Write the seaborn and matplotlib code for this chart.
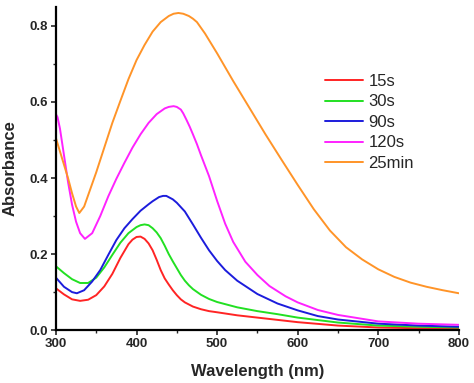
import numpy as np
import pandas as pd
import matplotlib
matplotlib.use("Agg")
import matplotlib.pyplot as plt
from matplotlib.ticker import MultipleLocator, FormatStrFormatter
import seaborn as sns

# ---- data ----
series_names = ["15s", "30s", "90s", "120s", "25min"]
series_colors = ["#ff2424", "#22e022", "#1c1cdc", "#ff22ff", "#ff9428"]

wl_15s = [300, 310, 320, 330, 340, 350, 360, 370, 380, 390, 395, 400, 405, 410, 415,
          420, 425, 430, 435, 440, 445, 450, 455, 460, 470, 480, 490, 500, 525, 550,
          575, 600, 650, 700, 750, 800]
abs_15s = [0.110, 0.094, 0.081, 0.077, 0.080, 0.092, 0.115, 0.148, 0.190, 0.226, 0.238,
           0.245, 0.246, 0.240, 0.228, 0.210, 0.185, 0.158, 0.136, 0.120, 0.105, 0.092,
           0.081, 0.073, 0.062, 0.055, 0.050, 0.047, 0.039, 0.033, 0.027, 0.021, 0.012,
           0.007, 0.005, 0.004]

wl_30s = [300, 310, 320, 330, 340, 350, 360, 370, 380, 390, 400, 405, 410, 415, 420,
          425, 430, 435, 440, 445, 450, 455, 460, 465, 470, 480, 490, 500, 525, 550,
          575, 600, 650, 700, 750, 800]
abs_30s = [0.168, 0.150, 0.134, 0.124, 0.124, 0.138, 0.165, 0.198, 0.230, 0.255, 0.271,
           0.276, 0.278, 0.276, 0.268, 0.257, 0.242, 0.222, 0.200, 0.181, 0.163, 0.145,
           0.130, 0.118, 0.108, 0.093, 0.082, 0.074, 0.060, 0.050, 0.042, 0.033, 0.020,
           0.012, 0.009, 0.007]

wl_90s = [300, 310, 320, 326, 335, 345, 355, 365, 375, 385, 395, 405, 415, 420, 428,
          433, 437, 445, 450, 460, 470, 480, 490, 500, 510, 525, 550, 575, 600, 625,
          650, 700, 750, 800]
abs_90s = [0.138, 0.114, 0.100, 0.097, 0.105, 0.128, 0.158, 0.198, 0.237, 0.268, 0.292,
           0.314, 0.331, 0.339, 0.350, 0.353, 0.353, 0.344, 0.335, 0.312, 0.278, 0.243,
           0.210, 0.182, 0.158, 0.130, 0.095, 0.070, 0.052, 0.037, 0.028, 0.017, 0.012,
           0.009]

wl_120s = [300, 302, 305, 310, 315, 320, 325, 330, 336, 345, 355, 365, 375, 385, 395,
           405, 415, 425, 435, 440, 446, 450, 455, 458, 462, 466, 470, 475, 480, 490,
           500, 510, 520, 535, 550, 565, 585, 600, 625, 650, 700, 750, 800]
abs_120s = [0.568, 0.560, 0.530, 0.460, 0.390, 0.330, 0.285, 0.255, 0.240, 0.255, 0.300,
            0.352, 0.398, 0.440, 0.480, 0.515, 0.545, 0.568, 0.583, 0.587, 0.589, 0.587,
            0.580, 0.570, 0.553, 0.535, 0.515, 0.489, 0.460, 0.405, 0.340, 0.280, 0.232,
            0.180, 0.145, 0.116, 0.089, 0.073, 0.053, 0.040, 0.023, 0.017, 0.014]

wl_25min = [300, 305, 310, 315, 320, 325, 329, 335, 340, 350, 360, 370, 380, 390, 400,
            410, 420, 430, 440, 446, 452, 458, 465, 470, 475, 485, 500, 520, 540, 560,
            580, 600, 620, 640, 660, 680, 700, 720, 740, 760, 780, 800]
abs_25min = [0.505, 0.470, 0.435, 0.400, 0.360, 0.325, 0.308, 0.325, 0.355, 0.415, 0.480,
             0.545, 0.603, 0.660, 0.710, 0.750, 0.785, 0.810, 0.826, 0.832, 0.834, 0.832,
             0.826, 0.819, 0.810, 0.780, 0.728, 0.655, 0.585, 0.515, 0.448, 0.382, 0.318,
             0.262, 0.218, 0.186, 0.160, 0.140, 0.125, 0.114, 0.105, 0.097]

x_ticks = [300, 400, 500, 600, 700, 800]
y_ticks = [0.0, 0.2, 0.4, 0.6, 0.8]

# ---- build long-form table ----
frames = []
for name, wl, ab in zip(series_names,
                        [wl_15s, wl_30s, wl_90s, wl_120s, wl_25min],
                        [abs_15s, abs_30s, abs_90s, abs_120s, abs_25min]):
    frames.append(pd.DataFrame({"Wavelength": wl, "Absorbance": ab, "Series": name}))
df = pd.concat(frames, ignore_index=True)

sns.set_style("ticks")
plt.rcParams["font.family"] = ["Liberation Sans", "DejaVu Sans"]

fig = plt.figure(figsize=(4.74, 3.83), dpi=100)
ax = fig.add_axes([0.118, 0.138, 0.850, 0.844])

sns.lineplot(data=df, x="Wavelength", y="Absorbance", hue="Series",
             hue_order=series_names, palette=dict(zip(series_names, series_colors)),
             estimator=None, sort=True, linewidth=1.4, ax=ax)
for ln in ax.get_lines():
    ln.set_solid_joinstyle("round")

ax.set_xlim(300, 800)
ax.set_ylim(0, 0.85)
ax.set_xticks(x_ticks)
ax.set_yticks(y_ticks)
ax.xaxis.set_minor_locator(MultipleLocator(50))
ax.yaxis.set_minor_locator(MultipleLocator(0.1))
ax.yaxis.set_major_formatter(FormatStrFormatter("%.1f"))
ax.tick_params(which="major", direction="out", length=3.5, width=1.2,
               labelsize=9.5, pad=2)
ax.tick_params(which="minor", direction="out", length=2, width=1.0)
for lab in ax.get_xticklabels() + ax.get_yticklabels():
    lab.set_fontweight("bold")

for side in ["top", "right"]:
    ax.spines[side].set_visible(False)
for side in ["left", "bottom"]:
    ax.spines[side].set_linewidth(1.6)
    ax.spines[side].set_color("black")

ax.set_xlabel("Wavelength (nm)", fontsize=12, fontweight="bold", labelpad=10)
ax.set_ylabel("Absorbance", fontsize=12, fontweight="bold", labelpad=9)

leg = ax.legend(loc="upper left", bbox_to_anchor=(0.686, 0.807),
                bbox_transform=fig.transFigure, frameon=False, fontsize=12,
                handlelength=2.3, handletextpad=0.3, labelspacing=0.33,
                borderpad=0, borderaxespad=0)
for line in leg.get_lines():
    line.set_linewidth(1.4)

fig.savefig("out.png", dpi=100)
